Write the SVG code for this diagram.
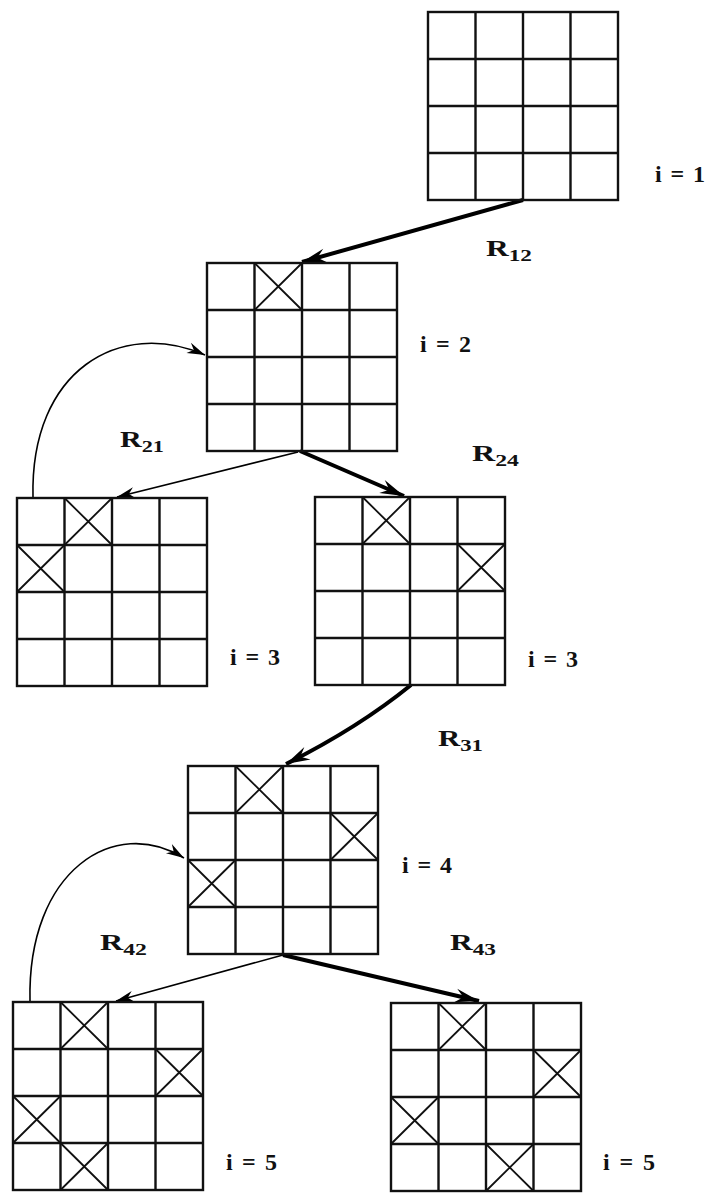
<svg xmlns="http://www.w3.org/2000/svg" xmlns:xlink="http://www.w3.org/1999/xlink" width="712" height="1197" viewBox="0 0 712 1197">
<style>
.g{fill:none;stroke:#111;stroke-width:2.4}
.x{stroke:#111;stroke-width:1.8}
.thick{fill:none;stroke:#000;stroke-width:4}
.thin{fill:none;stroke:#000;stroke-width:1.6}
.lbl{font-family:"Liberation Serif",serif;font-weight:bold;font-size:24px;fill:#111}
.rl{font-size:23px}
.sub{font-size:17px}
</style>
<defs>
<symbol id="grid" overflow="visible">
<rect class="g" x="0" y="0" width="190" height="188"/>
<path class="g" d="M47.5,0V188M95,0V188M142.5,0V188M0,47H190M0,94H190M0,141H190"/>
</symbol>
<symbol id="cross" overflow="visible">
<path class="x" d="M0,0L47.5,47M47.5,0L0,47"/>
</symbol>
<marker id="ahThick" markerUnits="userSpaceOnUse" markerWidth="30" markerHeight="20" refX="0" refY="0" viewBox="-24 -10 26 20" orient="auto" overflow="visible">
<path d="M0,0L-24,-7L-16,0L-24,7Z" fill="#000"/>
</marker>
<marker id="ahThin" markerUnits="userSpaceOnUse" markerWidth="20" markerHeight="14" refX="0" refY="0" viewBox="-16 -6 18 12" orient="auto" overflow="visible">
<path d="M0,0L-16,-5L-11,0L-16,5Z" fill="#000"/>
</marker>
</defs>

<g id="connectors">
<path id="R12" class="thick" d="M523,200L302,262" marker-end="url(#ahThick)"/>
<path id="R24" class="thick" d="M300,451L404,496" marker-end="url(#ahThick)"/>
<path id="R21" class="thin" d="M298,452L117,497" marker-end="url(#ahThin)"/>
<path id="R21back" class="thin" d="M33,497C30,370 120,318 205,355" marker-end="url(#ahThin)"/>
<path id="R31" class="thick" d="M411,685Q358,728 286,764" marker-end="url(#ahThick)"/>
<path id="R42" class="thin" d="M283,955L116,1001" marker-end="url(#ahThin)"/>
<path id="R43" class="thick" d="M283,955L479,1001" marker-end="url(#ahThick)"/>
<path id="R42back" class="thin" d="M30,1001C27,870 115,815 184,858" marker-end="url(#ahThin)"/>
</g>

<g id="n1">
<use xlink:href="#grid" x="428" y="12"/>
<text class="lbl" x="655" y="182" textLength="50" lengthAdjust="spacing">i=1</text>
</g>

<g id="n2">
<use xlink:href="#grid" x="207" y="263"/>
<use xlink:href="#cross" x="254.5" y="263"/>
<text class="lbl" x="420" y="352" textLength="51" lengthAdjust="spacing">i=2</text>
</g>

<g id="n3a">
<use xlink:href="#grid" x="17" y="498"/>
<use xlink:href="#cross" x="64.5" y="498"/>
<use xlink:href="#cross" x="17" y="545"/>
<text class="lbl" x="230" y="665" textLength="50" lengthAdjust="spacing">i=3</text>
</g>

<g id="n3b">
<use xlink:href="#grid" x="315" y="497"/>
<use xlink:href="#cross" x="362.5" y="497"/>
<use xlink:href="#cross" x="457.5" y="544"/>
<text class="lbl" x="528" y="667" textLength="50" lengthAdjust="spacing">i=3</text>
</g>

<g id="n4">
<use xlink:href="#grid" x="188" y="766"/>
<use xlink:href="#cross" x="235.5" y="766"/>
<use xlink:href="#cross" x="330.5" y="813"/>
<use xlink:href="#cross" x="188" y="860"/>
<text class="lbl" x="402" y="873" textLength="50" lengthAdjust="spacing">i=4</text>
</g>

<g id="n5a">
<use xlink:href="#grid" x="13" y="1002"/>
<use xlink:href="#cross" x="60.5" y="1002"/>
<use xlink:href="#cross" x="155.5" y="1049"/>
<use xlink:href="#cross" x="13" y="1096"/>
<use xlink:href="#cross" x="60.5" y="1143"/>
<text class="lbl" x="226" y="1170" textLength="51" lengthAdjust="spacing">i=5</text>
</g>

<g id="n5b">
<use xlink:href="#grid" x="391" y="1003"/>
<use xlink:href="#cross" x="438.5" y="1003"/>
<use xlink:href="#cross" x="533.5" y="1050"/>
<use xlink:href="#cross" x="391" y="1097"/>
<use xlink:href="#cross" x="486" y="1144"/>
<text class="lbl" x="603" y="1170" textLength="52" lengthAdjust="spacing">i=5</text>
</g>

<g id="labels">
<text class="lbl rl" x="486" y="256" textLength="46" lengthAdjust="spacingAndGlyphs">R<tspan class="sub" dy="5">12</tspan></text>
<text class="lbl rl" x="472" y="461" textLength="47" lengthAdjust="spacingAndGlyphs">R<tspan class="sub" dy="5">24</tspan></text>
<text class="lbl rl" x="120" y="447" textLength="44" lengthAdjust="spacingAndGlyphs">R<tspan class="sub" dy="5">21</tspan></text>
<text class="lbl rl" x="438" y="746" textLength="45" lengthAdjust="spacingAndGlyphs">R<tspan class="sub" dy="5">31</tspan></text>
<text class="lbl rl" x="100" y="950" textLength="47" lengthAdjust="spacingAndGlyphs">R<tspan class="sub" dy="5">42</tspan></text>
<text class="lbl rl" x="450" y="950" textLength="46" lengthAdjust="spacingAndGlyphs">R<tspan class="sub" dy="5">43</tspan></text>
</g>
</svg>
